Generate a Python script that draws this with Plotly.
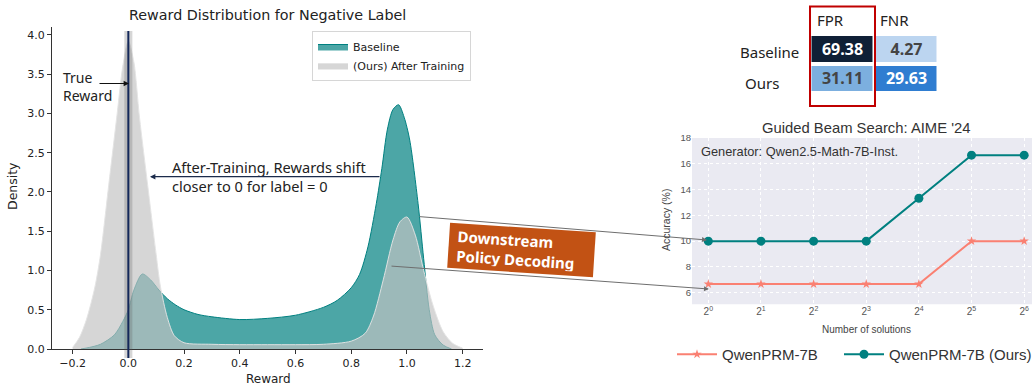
import plotly.graph_objects as go

W, H = 1032, 387
def px(x): return x / W
def py(y): return 1 - y / H

# ---------------- data ----------------
# Left: KDE of rewards
BASE_X = [-0.17, -0.14, -0.10, -0.05, -0.02, 0.00, 0.02, 0.05, 0.08, 0.11, 0.14, 0.17, 0.20, 0.25,
          0.30, 0.40, 0.50, 0.60, 0.70, 0.75, 0.80, 0.83, 0.86, 0.89, 0.91, 0.93, 0.95, 0.97,
          0.99, 1.01, 1.04, 1.06, 1.08, 1.10, 1.13, 1.16]
BASE_Y = [0.00, 0.02, 0.06, 0.18, 0.35, 0.50, 0.75, 0.955, 0.88, 0.75, 0.64, 0.56, 0.50, 0.44,
          0.41, 0.375, 0.39, 0.43, 0.53, 0.62, 0.78, 0.95, 1.30, 1.85, 2.30, 2.80, 3.05, 3.11,
          2.95, 2.66, 1.85, 1.15, 0.50, 0.18, 0.05, 0.00]
OURS_X = [-0.20, -0.175, -0.15, -0.12, -0.10, -0.07, -0.04, -0.02, 0.00, 0.02, 0.04, 0.07, 0.10,
          0.115, 0.14, 0.165, 0.20, 0.30, 0.40, 0.50, 0.60, 0.70, 0.80, 0.85, 0.88, 0.915, 0.95,
          0.975, 1.00, 1.03, 1.06, 1.095, 1.13, 1.165, 1.20]
OURS_Y = [0.02, 0.15, 0.38, 0.79, 1.20, 2.10, 3.00, 3.60, 3.92, 3.65, 2.95, 2.07, 1.20,
          0.80, 0.40, 0.17, 0.08, 0.06, 0.055, 0.055, 0.055, 0.06, 0.10, 0.20, 0.42, 0.88, 1.39,
          1.62, 1.68, 1.45, 1.00, 0.54, 0.22, 0.07, 0.01]
TRUE_REWARD = 0.0

# Right: guided beam search accuracy
N_SOLUTIONS = [1, 2, 4, 8, 16, 32, 64]
SOL_TICKS = ["2<sup>0</sup>", "2<sup>1</sup>", "2<sup>2</sup>", "2<sup>3</sup>",
             "2<sup>4</sup>", "2<sup>5</sup>", "2<sup>6</sup>"]
ACC_QWEN = [6.67, 6.67, 6.67, 6.67, 6.67, 10.0, 10.0]
ACC_OURS = [10.0, 10.0, 10.0, 10.0, 13.33, 16.67, 16.67]

# Table
ROWS = ["Baseline", "Ours"]
COLS = ["FPR", "FNR"]
FPR = [69.38, 31.11]
FNR = [4.27, 29.63]

TEAL = "#008080"
SALMON = "#fa8072"
LFONT = "DejaVu Sans"
RFONT = "Liberation Sans"
AFONT = "Noto Sans"

fig = go.Figure()

# ---------- left KDE ----------
fig.add_trace(go.Scatter(x=BASE_X, y=BASE_Y, mode="lines", fill="tozeroy", name="Baseline",
                         line=dict(color=TEAL, width=1, shape="spline", smoothing=0.8),
                         fillcolor="rgba(0,128,128,0.7)", xaxis="x", yaxis="y",
                         legend="legend", hoverinfo="skip"))
fig.add_trace(go.Scatter(x=OURS_X, y=OURS_Y, mode="lines", fill="tozeroy", name="(Ours) After Training",
                         line=dict(color="rgba(228,228,228,0.95)", width=1, shape="spline", smoothing=0.8),
                         fillcolor="rgba(195,195,195,0.68)", xaxis="x", yaxis="y",
                         legend="legend", hoverinfo="skip"))

# ---------- right line chart ----------
fig.add_trace(go.Scatter(x=N_SOLUTIONS, y=ACC_QWEN, mode="lines+markers", name="QwenPRM-7B",
                         line=dict(color=SALMON, width=2), marker=dict(symbol="star", size=7, color=SALMON),
                         xaxis="x2", yaxis="y2", legend="legend2", cliponaxis=False))
fig.add_trace(go.Scatter(x=N_SOLUTIONS, y=ACC_OURS, mode="lines+markers", name="QwenPRM-7B (Ours)",
                         line=dict(color=TEAL, width=2), marker=dict(symbol="circle", size=9, color=TEAL),
                         xaxis="x2", yaxis="y2", legend="legend3", cliponaxis=False))

# ---------- table as one heatmap, colour scaled per column ----------
def col_norm(vals, offset):
    lo, hi = min(vals), max(vals)
    return [offset + (v - lo) / (hi - lo) for v in vals]

fpr_n = col_norm(FPR, 0.0)
fnr_n = col_norm(FNR, 2.0)
z_tab = [[fpr_n[i], fnr_n[i]] for i in range(len(ROWS))]
t_tab = [[f"{FPR[i]:.2f}", f"{FNR[i]:.2f}"] for i in range(len(ROWS))]
fig.add_trace(go.Heatmap(x=COLS, y=ROWS, z=z_tab, text=t_tab, zmin=0, zmax=3,
                         colorscale=[[0, "#7cafdf"], [1 / 3, "#0f2036"],
                                     [2 / 3, "#bcd5f0"], [1, "#2f7dd1"]],
                         showscale=False, xgap=3, ygap=4, texttemplate="<b>%{text}</b>",
                         textfont=dict(family=AFONT, size=16), xaxis="x3", yaxis="y3",
                         hoverinfo="skip"))

# ---------- layout ----------
leg_common = dict(xanchor="left", yanchor="top", bgcolor="rgba(0,0,0,0)",
                  font=dict(family=RFONT, size=15, color="#333"), itemwidth=40)
fig.update_layout(
    width=W, height=H, margin=dict(l=0, r=0, t=0, b=0, autoexpand=False),
    paper_bgcolor="white", plot_bgcolor="rgba(0,0,0,0)",
    xaxis=dict(domain=[px(52), px(483)], range=[-0.274, 1.273], anchor="y",
               tickvals=[-0.2, 0, 0.2, 0.4, 0.6, 0.8, 1.0, 1.2], tickformat=".1f",
               ticks="outside", ticklen=4, tickcolor="#333", showline=True, linecolor="#333",
               linewidth=1, showgrid=False, zeroline=False,
               tickfont=dict(family=LFONT, size=11, color="#222")),
    yaxis=dict(domain=[py(349), py(27)], range=[0, 4.1], anchor="x",
               tickvals=[0, 0.5, 1, 1.5, 2, 2.5, 3, 3.5, 4], tickformat=".1f",
               ticks="outside", ticklen=4, tickcolor="#333", showline=True, linecolor="#333",
               linewidth=1, showgrid=False, zeroline=False,
               tickfont=dict(family=LFONT, size=11, color="#222")),
    xaxis2=dict(domain=[px(692), 1.0], type="log", range=[-0.0933, 1.851], anchor="y2",
                tickvals=N_SOLUTIONS, ticktext=SOL_TICKS, showgrid=True, gridcolor="white",
                griddash="dot", gridwidth=1, zeroline=False, ticks="",
                tickfont=dict(family=RFONT, size=10, color="#555")),
    yaxis2=dict(domain=[py(304.3), py(138)], range=[5.1, 18.0], anchor="x2",
                tickvals=[6, 8, 10, 12, 14, 16, 18], showgrid=True, gridcolor="white",
                griddash="dot", gridwidth=1, zeroline=False, ticks="",
                tickfont=dict(family=RFONT, size=9.5, color="#555")),
    xaxis3=dict(domain=[px(810.5), px(938.5)], anchor="y3", type="category",
                categoryorder="array", categoryarray=COLS, range=[-0.5, 1.5], visible=False),
    yaxis3=dict(domain=[py(93), py(34)], anchor="x3", type="category",
                categoryorder="array", categoryarray=ROWS, range=[1.5, -0.5], visible=False),
    legend=dict(x=px(312), y=py(31), xanchor="left", yanchor="top", bgcolor="white",
                bordercolor="#d6d6d6", borderwidth=1, font=dict(family=LFONT, size=11, color="#222"),
                tracegroupgap=0, itemwidth=30, traceorder="normal"),
    legend2=dict(x=px(672), y=py(338), **leg_common),
    legend3=dict(x=px(839), y=py(338), **leg_common),
)

shapes = [
    # right chart background
    dict(type="rect", xref="x2 domain", yref="y2 domain", x0=0, x1=1, y0=0, y1=1,
         fillcolor="#eaeaf2", line=dict(width=0), layer="below"),
    # true reward glow + line
    dict(type="line", xref="x", yref="paper", x0=TRUE_REWARD, x1=TRUE_REWARD, y0=py(358), y1=py(31),
         line=dict(color="rgba(90,90,90,0.25)", width=8), layer="above"),
    dict(type="line", xref="x", yref="paper", x0=TRUE_REWARD, x1=TRUE_REWARD, y0=py(358), y1=py(31),
         line=dict(color="#14285a", width=2), layer="above"),
    # red highlight box around FPR column
    dict(type="rect", xref="paper", yref="paper", x0=px(810), x1=px(875), y0=py(106), y1=py(6.5),
         line=dict(color="#c00000", width=2), fillcolor="rgba(0,0,0,0)"),
]
fig.update_layout(shapes=shapes)

ann = []
def text(x, y, t, size, family, color="#222", xanchor="center", yanchor="middle", align="center", **kw):
    ann.append(dict(x=px(x), y=py(y), xref="paper", yref="paper", text=t, showarrow=False,
                    font=dict(family=family, size=size, color=color), xanchor=xanchor,
                    yanchor=yanchor, align=align, **kw))

def arrow(x0, y0, x1, y1, color, width=1, head=2, size=1):
    ann.append(dict(x=px(x1), y=py(y1), xref="paper", yref="paper", ax=x0 - x1, ay=y0 - y1,
                    text="", showarrow=True, arrowhead=head, arrowsize=size, arrowwidth=width,
                    arrowcolor=color, standoff=0))

# left chart texts
text(267.5, 15, "Reward Distribution for Negative Label", 14.3, LFONT)
text(12, 186, "Density", 12.5, LFONT, textangle=-90)
text(268, 379, "Reward", 12, LFONT)
text(61, 86, "True<br>Reward", 14, AFONT, xanchor="left", align="left")
arrow(98, 83.5, 129, 83.5, "#111", 1.2, 2, 0.9)
text(170, 176.5, "After-Training, Rewards shift<br>closer to 0 for label = 0", 14.6, AFONT,
     xanchor="left", align="left")
arrow(381, 176.7, 150, 176.7, "#1b2b4b", 1.2, 2, 0.9)

# connecting arrows (behind the orange box)
arrow(418, 216.5, 707, 240, "#6e6e6e", 1, 2, 1)
arrow(390, 266, 709, 289, "#6e6e6e", 1, 2, 1)

# orange box
ann.append(dict(x=px(521.5), y=py(250), xref="paper", yref="paper", showarrow=False,
                text="<b>&nbsp;Downstream<br>&nbsp;Policy Decoding</b>", textangle=3.7,
                font=dict(family=AFONT, size=15, color="white"), bgcolor="#c25214",
                width=137, height=36, borderpad=4, align="left", valign="middle",
                xanchor="center", yanchor="middle"))

# table labels
text(815, 20, COLS[0], 15, AFONT, xanchor="left")
text(878, 20, COLS[1], 15, AFONT, xanchor="left")
text(801, 52, ROWS[0], 15, AFONT, xanchor="right")
text(762, 83, ROWS[1], 15, AFONT)

# right chart texts
text(866, 128, "Guided Beam Search: AIME '24", 14.8, RFONT, color="#333")
text(699, 152, "Generator: Qwen2.5-Math-7B-Inst.", 12.8, RFONT, color="#333", xanchor="left")
text(666, 220, "Accuracy (%)", 10.5, RFONT, color="#444", textangle=-90)
text(866, 329, "Number of solutions", 10, RFONT, color="#444")

fig.update_layout(annotations=ann)
fig.write_html("out.html")
